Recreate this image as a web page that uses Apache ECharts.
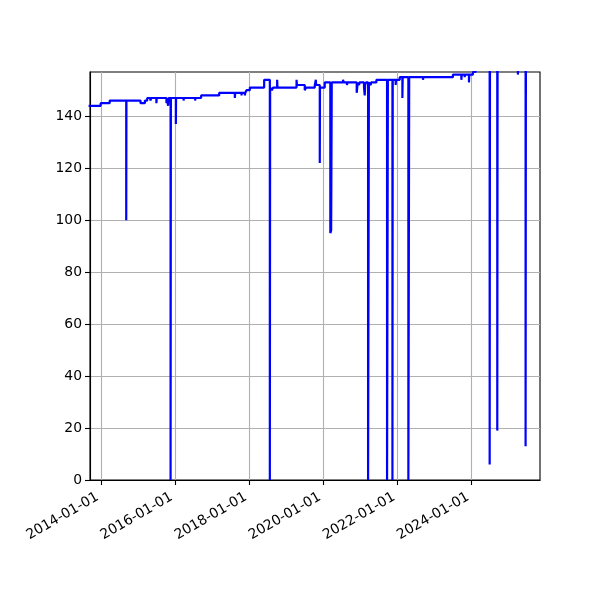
<!DOCTYPE html>
<html>
<head>
<meta charset="utf-8">
<script src="https://cdn.jsdelivr.net/npm/echarts@6/dist/echarts.min.js"></script>
<style>html,body{margin:0;padding:0;background:#fff}#c{width:600px;height:600px}</style>
</head>
<body>
<div id="c"></div>
<script>
// Step series: from each date on, the value holds until the next date
const dates = [
'2013-09-01','2013-12-29','2014-03-28','2014-09-07','2014-09-09','2015-01-26','2015-03-10','2015-04-02',
'2015-05-02','2015-05-12','2015-07-01','2015-07-05','2015-10-08','2015-10-12','2015-10-25','2015-10-29',
'2015-11-18','2015-11-21','2016-01-09','2016-01-11','2016-03-25','2016-03-28','2016-07-17','2016-07-20',
'2016-09-14','2017-03-11','2017-08-12','2017-08-16','2017-10-17','2017-10-20','2017-11-19','2017-11-23',
'2017-12-05','2018-01-07','2018-05-28','2018-07-23','2018-07-26','2018-08-12','2018-08-25','2018-10-03',
'2018-10-06','2019-04-12','2019-04-16','2019-07-02','2019-07-15','2019-10-09','2019-10-19','2019-10-23',
'2019-11-27','2019-11-29','2020-01-15','2020-03-10','2020-03-18','2020-03-24','2020-07-13','2020-07-20',
'2020-08-21','2020-08-26','2020-11-25','2020-12-05','2020-12-18','2020-12-22','2021-02-05','2021-02-12',
'2021-02-16','2021-02-25','2021-03-17','2021-03-25','2021-04-12','2021-04-16','2021-06-07','2021-09-20',
'2021-09-28','2021-11-12','2021-11-15','2021-12-14','2021-12-17','2022-01-23','2022-02-18','2022-02-21',
'2022-04-18','2022-04-26','2022-09-09','2022-09-13','2023-07-01','2023-09-22','2023-09-26','2023-10-25',
'2023-10-29','2023-12-06','2023-12-09','2024-01-14','2024-02-10','2024-06-27','2024-06-30','2024-09-10',
'2024-09-13','2025-04-01','2025-04-05','2025-06-16','2025-06-19','2025-11-30'
];
const values = [
144,145,146,100,146,145,146,147,
146,147,145,147,145,147,144,147,
0,147,137,147,146,147,146,147,
148,149,147,149,148,149,148,149,
150,151,154,0,151,150,151,154,
151,154,152,150,151,152,154,152,
122,151,153,95,96,153,154,153,
152,153,149,153,152,153,151,148,
152,153,0,153,152,153,154,0,
154,0,154,152,154,155,147,155,
0,155,154,155,156,154,156,155,
156,153,156,157,159,6,159,19,
159,156,159,13,159,159
];
const xTickLabels = ['2014-01-01','2016-01-01','2018-01-01','2020-01-01','2022-01-01','2024-01-01'];
const yTicks = [0,20,40,60,80,100,120,140];
const xMin = '2013-09-15';
const xMax = '2025-11-05';
const yMin = 0;
const yMax = 157;

const toTs = s => {
  const p = s.split('-').map(Number);
  return Date.UTC(p[0], p[1] - 1, p[2]);
};
const fmt = v => {
  const d = new Date(v);
  const pad = n => (n < 10 ? '0' : '') + n;
  return d.getUTCFullYear() + '-' + pad(d.getUTCMonth() + 1) + '-' + pad(d.getUTCDate());
};
const seriesData = dates.map((d, i) => [toTs(d), values[i]]);
const xTicks = xTickLabels.map(toTs);

const chart = echarts.init(document.getElementById('c'), null, {renderer: 'canvas'});
const font = 'DejaVu Sans';
chart.setOption({
  animation: false,
  backgroundColor: '#fff',
  grid: {left: 90, right: 60, top: 72, bottom: 120, show: true, borderColor: '#000', borderWidth: 1.1, backgroundColor: 'transparent'},
  xAxis: {
    type: 'value',
    min: toTs(xMin),
    max: toTs(xMax),
    axisLine: {show: true, onZero: false, lineStyle: {color: '#000', width: 1.1}},
    axisTick: {show: true, inside: false, length: 5, lineStyle: {color: '#000', width: 1.1}, customValues: xTicks},
    axisLabel: {
      show: true, customValues: xTicks, rotate: 30, margin: 14, padding: [0, 4, 0, 0],
      color: '#000', fontFamily: font, fontSize: 13.9, hideOverlap: false,
      formatter: v => fmt(v)
    },
    splitLine: {show: true, lineStyle: {color: '#b0b0b0', width: 1.1}}
  },
  yAxis: {
    type: 'value',
    min: yMin,
    max: yMax,
    axisLine: {show: true, lineStyle: {color: '#000', width: 1.1}},
    axisTick: {show: true, inside: false, length: 5, lineStyle: {color: '#000', width: 1.1}, customValues: yTicks},
    axisLabel: {show: true, customValues: yTicks, margin: 8, color: '#000', fontFamily: font, fontSize: 13.9},
    splitLine: {show: true, lineStyle: {color: '#b0b0b0', width: 1.1}}
  },
  series: [{
    type: 'line',
    step: 'end',
    data: seriesData,
    showSymbol: false,
    symbol: 'none',
    clip: true,
    lineStyle: {color: '#0000ff', width: 2.2},
    itemStyle: {color: '#0000ff'}
  }]
});
</script>
</body>
</html>
